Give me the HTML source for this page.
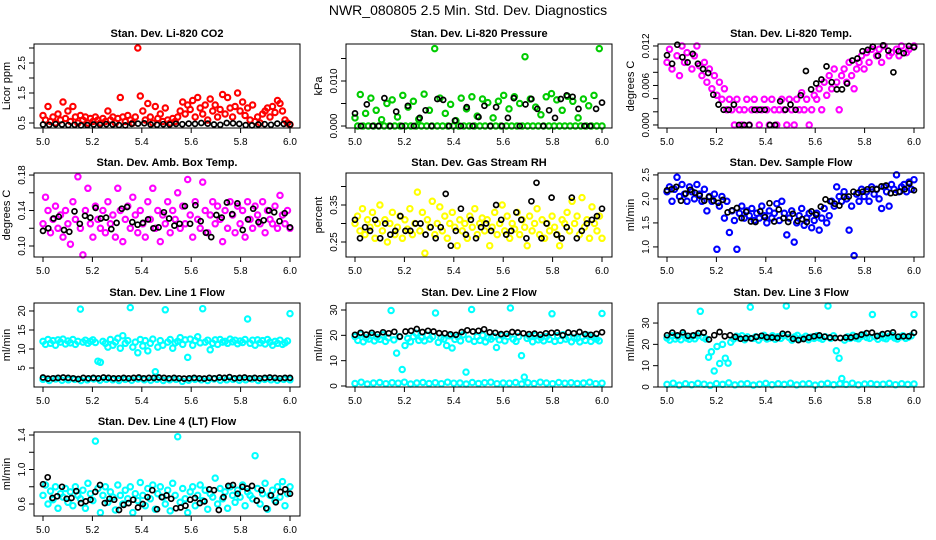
<!DOCTYPE html>
<html><head><meta charset="utf-8">
<style>
html,body{margin:0;padding:0;background:#fff;}
svg{display:block;font-family:"Liberation Sans",Arial,sans-serif;}
</style></head>
<body>
<svg id="chart" width="936" height="540" viewBox="0 0 936 540">
<text x="468" y="15" text-anchor="middle" font-size="14" fill="#000">NWR_080805  2.5 Min. Std. Dev. Diagnostics</text>
</svg>
<script>
// ---- data (one value per sample, x spans 5.0 .. 6.0) ----
const xTicks = [5.0, 5.2, 5.4, 5.6, 5.8, 6.0];
const xTickLabels = ["5.0", "5.2", "5.4", "5.6", "5.8", "6.0"];

const co2Red = [0.75,0.6,1.05,0.55,0.7,0.5,0.8,0.6,1.2,0.65,0.9,0.55,1.05,0.7,0.5,0.75,0.6,0.7,0.5,0.65,0.55,0.7,0.6,0.5,0.65,0.55,0.9,0.6,0.7,0.5,0.65,1.35,0.7,0.55,0.75,0.6,0.5,0.7,3.0,1.4,0.9,0.6,1.15,0.7,0.5,1.05,0.65,0.8,0.55,1.0,0.6,0.5,0.65,0.55,0.7,0.9,1.2,0.8,1.1,0.95,1.25,0.7,1.35,1.0,0.8,1.1,0.6,1.3,0.9,1.1,0.7,0.95,1.45,0.8,1.35,1.0,0.7,1.05,1.5,0.9,1.2,0.75,1.0,0.6,1.1,0.55,0.7,0.5,0.8,0.9,1.0,0.7,1.05,0.85,1.25,1.15,0.9,0.6,0.5,0.45];
const co2Black = [0.45,0.44,0.46,0.45,0.43,0.44,0.42,0.43,0.45,0.44,0.46,0.45,0.43,0.42,0.47,0.48,0.49,0.45,0.44,0.46,0.45,0.47,0.46,0.48,0.47,0.5,0.48,0.45,0.44,0.5,0.49,0.47,0.43,0.42,0.45,0.46,0.44,0.48,0.47,0.45];

const presGreen = [0.0018,0,0.007,0,0.0028,0,0.0062,0,0.0035,0,0.0014,0,0.005,0,0.0058,0,0.002,0,0.0068,0,0.0042,0,0.0055,0,0.0015,0,0.0071,0,0.0035,0,0.0172,0,0.0062,0,0.0028,0,0.0048,0,0.0012,0,0.0062,0,0.0038,0,0.0065,0,0.0022,0,0.006,0,0.0052,0,0.0018,0,0.0055,0,0.0068,0,0.0038,0,0.0065,0,0.005,0,0.0154,0,0.006,0,0.0042,0,0.0025,0,0.0065,0,0.0072,0,0.0058,0,0.0035,0,0.0066,0,0.0055,0,0.0018,0,0.006,0,0.0045,0,0.0068,0,0.0172,0];
const presBlack = [0.0028,0,0.0048,0,0,0.0062,0,0.0032,0,0.0045,0,0.0018,0.0035,0,0.006,0.0058,0,0.0012,0,0.0042,0,0.002,0.0045,0,0.0042,0,0.0018,0.0062,0,0.0048,0.006,0.0038,0,0.0035,0.0018,0.006,0.0068,0.0065,0.0038,0,0,0.0038,0.0052];

const tempMag = [0.0095,0.0115,0.0085,0.0125,0.0105,0.0075,0.012,0.0095,0.011,0.0125,0.0085,0.0105,0.012,0.009,0.0075,0.0095,0.0065,0.0085,0.0055,0.0075,0.0045,0.0065,0.0039,0.0055,0.0023,0.0039,0.0023,0.0,0.0039,0.0023,0.0,0.0023,0.0039,0.0,0.0023,0.0039,0.0023,0.0,0.0023,0.0039,0.0023,0.0,0.0039,0.0023,0.0,0.0023,0.0039,0.0023,0.0,0.0039,0.0023,0.0,0.0039,0.0023,0.0049,0.0023,0.0039,0.0,0.0023,0.0045,0.0039,0.0055,0.0023,0.0065,0.0045,0.0075,0.0055,0.0085,0.0065,0.0023,0.0075,0.0085,0.0065,0.0095,0.0075,0.0055,0.0085,0.0095,0.0105,0.0085,0.011,0.0095,0.0115,0.0125,0.0105,0.0115,0.0095,0.012,0.0125,0.0105,0.011,0.0125,0.0115,0.0105,0.012,0.0125,0.011,0.0115,0.0125,0.012];
const tempBlack = [0.0106,0.0093,0.0122,0.0103,0.0095,0.0108,0.0093,0.0085,0.0079,0.0046,0.0031,0.0023,0.0023,0.0031,0.0,0.0,0.0,0.0023,0.0023,0.0023,0.0,0.0,0.0036,0.0023,0.0031,0.0023,0.0045,0.0082,0.0054,0.0063,0.0069,0.0089,0.0065,0.0054,0.0054,0.0063,0.0098,0.0101,0.0112,0.0114,0.0119,0.0105,0.0121,0.0113,0.008,0.0112,0.0109,0.012,0.0118];

const ambMag = [0.125,0.155,0.14,0.115,0.13,0.145,0.12,0.135,0.11,0.14,0.125,0.102,0.15,0.13,0.178,0.12,0.09,0.14,0.165,0.125,0.11,0.145,0.13,0.12,0.14,0.115,0.15,0.125,0.135,0.11,0.165,0.14,0.105,0.13,0.145,0.12,0.155,0.135,0.115,0.14,0.125,0.11,0.15,0.13,0.165,0.12,0.14,0.105,0.135,0.125,0.15,0.115,0.14,0.13,0.16,0.12,0.145,0.125,0.175,0.135,0.11,0.15,0.13,0.12,0.172,0.14,0.115,0.135,0.15,0.125,0.145,0.13,0.105,0.14,0.12,0.15,0.135,0.115,0.145,0.125,0.14,0.11,0.15,0.13,0.12,0.145,0.135,0.125,0.15,0.115,0.14,0.13,0.125,0.145,0.12,0.157,0.135,0.125,0.14,0.12];
const ambBlack = [0.117,0.12,0.131,0.133,0.118,0.116,0.139,0.125,0.134,0.132,0.143,0.131,0.132,0.119,0.126,0.142,0.144,0.127,0.124,0.126,0.13,0.12,0.121,0.138,0.131,0.123,0.125,0.145,0.125,0.146,0.128,0.115,0.11,0.135,0.132,0.149,0.136,0.148,0.118,0.13,0.142,0.127,0.129,0.14,0.138,0.128,0.137,0.121];

const rhYellow = [0.3,0.32,0.28,0.34,0.27,0.31,0.29,0.33,0.26,0.3,0.35,0.28,0.31,0.25,0.3,0.33,0.27,0.29,0.32,0.26,0.31,0.285,0.34,0.27,0.3,0.385,0.28,0.33,0.22,0.31,0.29,0.36,0.27,0.3,0.345,0.28,0.32,0.26,0.3,0.33,0.29,0.24,0.31,0.28,0.3,0.26,0.32,0.29,0.34,0.27,0.3,0.315,0.28,0.31,0.24,0.29,0.33,0.27,0.3,0.35,0.28,0.32,0.26,0.3,0.285,0.33,0.27,0.31,0.29,0.24,0.32,0.28,0.3,0.34,0.27,0.31,0.26,0.3,0.28,0.32,0.29,0.27,0.24,0.31,0.3,0.33,0.28,0.36,0.3,0.32,0.27,0.37,0.29,0.31,0.26,0.345,0.3,0.28,0.32,0.26];
const rhBlack = [0.31,0.26,0.29,0.28,0.31,0.26,0.3,0.27,0.28,0.32,0.28,0.28,0.3,0.3,0.27,0.29,0.26,0.29,0.38,0.24,0.28,0.34,0.27,0.31,0.26,0.29,0.3,0.28,0.35,0.31,0.27,0.28,0.33,0.31,0.26,0.36,0.41,0.26,0.3,0.37,0.27,0.26,0.29,0.37,0.26,0.28,0.3,0.31,0.32,0.34];

const flowBlue = [2.15,2.25,1.95,2.2,2.45,2.05,2.3,2.1,1.95,2.25,2.15,2.0,2.3,2.1,1.95,2.2,1.75,2.05,1.95,2.1,0.95,1.85,2.05,1.6,1.95,1.3,1.75,1.55,0.95,1.7,1.85,1.6,1.75,1.65,1.8,1.55,1.7,1.6,1.85,1.65,1.5,1.75,1.6,1.7,1.9,1.55,1.95,1.7,1.25,1.6,1.75,1.1,1.5,1.65,1.8,1.45,1.6,1.7,1.4,1.55,1.7,1.35,1.6,1.8,1.5,1.65,1.95,1.85,2.25,2.05,1.95,2.15,2.0,1.35,1.85,0.82,2.1,1.95,2.2,2.05,2.15,1.95,2.25,2.1,2.2,2.0,1.8,2.25,2.15,1.85,2.3,2.2,2.5,2.15,2.25,2.3,2.15,2.35,2.2,2.4];
const flowBlack = [2.18,2.2,2.25,1.96,2.11,2.19,2.13,2.07,1.96,2.04,1.96,1.92,1.98,1.72,1.76,1.81,1.6,1.73,1.53,1.52,1.74,1.62,1.91,1.53,1.78,1.6,1.52,1.69,1.54,1.58,1.52,1.74,1.67,1.84,1.99,1.95,1.9,1.86,2.04,2.05,2.15,2.13,2.15,2.2,2.2,2.2,2.26,2.28,2.12,2.13,2.15,2.2,2.32,2.18];

const line1Cyan = [12.0,11.2,12.5,11.5,12.2,11.0,12.4,11.8,12.6,11.3,12.1,11.6,12.5,11.2,12.0,20.5,11.8,12.3,11.5,12.0,12.4,11.7,6.8,6.5,12.0,11.5,10.5,12.5,11.0,11.8,12.8,10.2,13.5,11.5,12.2,20.9,10.5,11.8,9.0,12.5,10.8,12.2,9.5,11.5,12.6,4.0,10.5,12.2,11.0,20.3,11.8,12.5,10.2,11.6,12.0,13.0,11.2,12.4,7.8,12.6,11.0,12.2,13.2,11.6,20.6,11.8,12.3,9.8,11.5,12.4,11.2,12.5,11.8,12.0,11.5,12.6,11.9,12.3,11.4,12.1,11.7,12.5,17.9,11.5,12.3,11.0,12.4,11.6,12.2,11.3,12.5,11.8,11.0,12.0,11.5,12.3,11.2,11.6,12.1,19.3];
const line1Low = [2.0,1.7,2.1,1.8,1.9,2.0,1.7,1.9,2.1,1.8,2.0,1.9,1.7,2.0,1.8,2.1,1.9,1.8,2.0,1.7,1.9,2.0,1.5,1.8,2.0,1.9,1.7,2.1,1.8,1.9,2.0,1.8,1.9,2.1,1.7,2.0,1.9,1.8,2.0,1.9];
const line1Black = [2.5,2.2,2.3,2.4,2.5,2.4,2.3,2.1,2.4,2.3,2.4,2.3,2.5,2.4,2.3,2.3,2.4,2.3,2.4,2.5,2.3,2.4,2.4,2.5,2.4,2.3,2.4,2.3,2.2,2.3,2.4,2.3,2.2,2.4,2.3,2.5,2.4,2.6,2.3,2.4,2.5,2.3,2.4,2.3,2.4,2.5,2.4,2.3,2.4,2.4];

const line2Cyan = [19.5,18.0,20.5,17.5,19.0,18.5,20.0,17.8,19.2,18.4,20.2,17.6,19.0,29.8,18.2,13.0,19.5,6.5,16.0,18.8,17.5,19.5,20.8,18.0,19.2,17.8,20.0,18.5,19.5,28.8,17.2,19.0,18.5,16.0,19.8,15.0,18.4,19.5,17.8,20.2,5.5,18.5,30.2,17.6,19.5,18.0,20.0,17.4,19.0,18.5,19.5,15.2,18.2,20.0,17.8,19.5,30.8,18.5,17.6,19.5,12.0,3.5,18.8,19.5,17.5,20.0,18.2,19.0,17.8,19.5,18.4,28.5,17.6,19.8,18.0,20.2,18.5,19.2,17.5,19.0,18.8,17.4,19.5,18.0,20.0,17.6,19.2,18.5,17.8,28.6];
const line2Low = [1.0,1.5,0.8,1.2,1.4,0.9,1.3,1.1,1.5,0.8,1.2,1.4,1.0,1.3,0.9,1.5,1.1,1.2,0.8,1.4,1.0,1.3,1.5,0.9,1.2,1.1,1.4,0.8,1.3,1.0,1.5,1.2,0.9,1.4,1.1,1.3,1.0,1.2,1.5,0.9,1.1];
const line2Black = [20.2,21.0,20.3,21.0,20.4,21.2,20.8,21.4,19.5,21.5,21.8,22.5,21.3,21.8,21.5,20.9,20.8,20.4,20.2,21.3,22.0,21.5,21.8,22.4,21.2,21.0,20.5,20.6,21.3,21.1,20.8,20.5,20.7,20.3,20.8,21.0,21.1,20.0,21.1,20.8,21.3,20.5,20.2,20.6,21.2];

const line3Cyan = [23.0,22.0,24.0,22.5,23.5,22.2,24.5,23.0,22.4,23.8,22.6,24.0,35.5,23.2,22.5,14.0,16.5,7.5,19.0,11.0,20.0,13.5,11.2,21.0,22.5,23.8,23.0,24.0,22.2,23.5,37.5,22.8,23.6,22.0,23.4,24.2,22.5,23.0,24.0,22.4,23.6,22.8,24.0,38.0,23.2,22.0,23.5,24.2,22.6,23.0,23.8,22.2,23.4,22.8,24.0,23.0,22.4,23.6,38.0,22.8,24.0,17.0,13.5,4.0,22.0,23.5,22.8,24.2,23.0,22.6,23.8,24.5,23.2,22.8,34.0,23.6,22.4,24.0,23.0,22.6,23.8,24.2,23.0,22.5,23.5,24.0,22.8,23.4,24.0,34.0];
const line3Low = [1.2,1.8,0.9,1.5,1.1,1.7,1.3,0.8,1.6,1.2,1.9,1.0,1.4,1.6,0.9,1.3,1.7,1.1,1.5,1.2,1.8,1.0,1.4,1.6,0.9,1.3,1.7,1.1,1.5,1.2,1.8,1.0,1.4,1.6,1.2,1.3,1.7,1.1,1.5,1.2,1.4];
const line3Black = [24.3,25.5,24.2,25.6,24.0,24.2,25.3,25.5,22.3,24.3,25.8,23.8,24.3,23.5,22.6,22.9,22.8,23.5,24.0,23.3,23.2,23.0,25.0,24.8,22.6,22.0,22.5,23.2,23.8,24.2,23.6,23.2,23.0,23.0,23.2,23.2,23.8,24.6,25.3,25.5,23.9,24.8,25.2,25.6,23.6,23.8,23.8,25.5];

const line4Cyan = [0.7,0.82,0.6,0.75,0.65,0.8,0.55,0.72,0.68,0.78,0.62,0.74,0.58,0.8,0.7,0.66,0.76,0.55,0.84,0.72,0.64,1.33,0.78,0.5,0.7,0.8,0.62,0.74,0.68,0.53,0.82,0.7,0.6,0.76,0.66,0.8,0.5,0.72,0.64,0.85,0.7,0.58,0.78,0.66,0.82,0.54,0.72,0.8,0.68,0.6,0.76,0.52,0.84,0.7,1.38,0.62,0.78,0.66,0.5,0.74,0.8,0.58,0.7,0.82,0.64,0.76,0.54,0.72,0.68,0.9,0.6,0.78,0.66,0.74,0.55,0.8,0.7,0.62,0.76,0.68,0.82,0.58,0.74,0.7,0.66,1.16,0.78,0.6,0.72,0.84,0.54,0.7,0.76,0.64,0.8,0.68,0.86,0.58,0.72,0.8];
const line4Black = [0.83,0.91,0.67,0.69,0.8,0.66,0.67,0.75,0.61,0.63,0.65,0.74,0.82,0.61,0.66,0.65,0.53,0.59,0.61,0.65,0.56,0.6,0.68,0.76,0.54,0.68,0.7,0.66,0.55,0.56,0.58,0.65,0.67,0.61,0.63,0.77,0.76,0.53,0.68,0.81,0.82,0.72,0.8,0.78,0.81,0.64,0.76,0.55,0.7,0.62,0.74,0.77,0.72];

// ---- layout ----
const svg = document.getElementById('chart');
const NS = 'http://www.w3.org/2000/svg';
const colLeft = [34, 346, 658];
const rowTop = [44, 173, 303, 432];
const boxW = 266, boxH = 84;

function mk(tag, attrs, parent) {
  const el = document.createElementNS(NS, tag);
  for (const k in attrs) el.setAttribute(k, attrs[k]);
  (parent || svg).appendChild(el);
  return el;
}

function drawPanel(col, row, slug, title, ylab, ylim, yTicks, yTickLabels, series) {
  const L = colLeft[col], T = rowTop[row], B = T + boxH;
  const g = mk('g', {});
  
  
  const xs = v => L + 9 + (v - 5.0) * 247;
  const ys = v => B - (v - ylim[0]) / (ylim[1] - ylim[0]) * boxH;

  const t = mk('text', {x: L + boxW / 2, y: T - 7, 'text-anchor': 'middle', 'font-size': 11, 'font-weight': 'bold'}, g);
  t.textContent = title;
  
  

  const yl = mk('text', {x: 0, y: 0, 'text-anchor': 'middle', 'font-size': 11, transform: `translate(${L - 24},${T + boxH / 2}) rotate(-90)`}, g);
  yl.textContent = ylab;
  
  

  series.forEach(s => {
    const n = s.vals.length;
    const black = s.color === '#000';
    const pg = mk('g', {fill: 'none', stroke: s.color, 'stroke-width': black ? 1.7 : 2.1}, g);
    
    
    s.vals.forEach((v, i) => {
      const y = ys(v);
      if (y < T - 1 || y > B + 1) return;
      const c = mk('circle', {cx: xs(5.0 + i / (n - 1)).toFixed(1), cy: y.toFixed(1), r: black ? 2.5 : 2.7}, pg);
      
      
    });
  });

  const box = mk('rect', {x: L, y: T, width: boxW, height: boxH, fill: 'none', stroke: '#000', 'stroke-width': 1}, g);
  
  

  const xa = mk('g', {}, g);
  
  
  xTicks.forEach((v, i) => {
    mk('line', {x1: xs(v), x2: xs(v), y1: B, y2: B + 5, stroke: '#000'}, xa);
    const tl = mk('text', {x: xs(v), y: B + 17, 'text-anchor': 'middle', 'font-size': 10}, xa);
    tl.textContent = xTickLabels[i];
  });
  const ya = mk('g', {}, g);
  
  
  yTicks.forEach((v, i) => {
    const y = ys(v);
    mk('line', {x1: L - 5, x2: L, y1: y, y2: y, stroke: '#000'}, ya);
    if (yTickLabels[i]) {
      const tl = mk('text', {x: 0, y: 0, 'text-anchor': 'middle', 'font-size': 10, transform: `translate(${L - 9},${y}) rotate(-90)`}, ya);
      tl.textContent = yTickLabels[i];
    }
  });
}

const BLK = '#000';
drawPanel(0, 0, 'co2', 'Stan. Dev. Li-820 CO2', 'Licor ppm', [0.333, 3.133],
  [0.5, 1.0, 1.5, 2.0, 2.5, 3.0], ['0.5', '', '1.5', '', '2.5', ''],
  [{name: 'red', vals: co2Red, color: '#ff0000'}, {name: 'black', vals: co2Black, color: BLK}]);
drawPanel(1, 0, 'pressure', 'Stan. Dev. Li-820 Pressure', 'kPa', [-0.00044, 0.01822],
  [0, 0.005, 0.010, 0.015], ['0.000', '', '0.010', ''],
  [{name: 'green', vals: presGreen, color: '#00cc00'}, {name: 'black', vals: presBlack, color: BLK}]);
drawPanel(2, 0, 'temp', 'Stan. Dev. Li-820 Temp.', 'degrees C', [-0.00046, 0.0123],
  [0, 0.002, 0.004, 0.006, 0.008, 0.010, 0.012], ['0.000', '', '', '0.006', '', '', '0.012'],
  [{name: 'magenta', vals: tempMag, color: '#ff00ff'}, {name: 'black', vals: tempBlack, color: BLK}]);
drawPanel(0, 1, 'amb-box', 'Stan. Dev. Amb. Box Temp.', 'degrees C', [0.0876, 0.1823],
  [0.10, 0.12, 0.14, 0.16, 0.18], ['0.10', '', '0.14', '', '0.18'],
  [{name: 'magenta', vals: ambMag, color: '#ff00ff'}, {name: 'black', vals: ambBlack, color: BLK}]);
drawPanel(1, 1, 'rh', 'Stan. Dev. Gas Stream RH', 'percent', [0.2095, 0.4365],
  [0.25, 0.30, 0.35, 0.40], ['0.25', '', '0.35', ''],
  [{name: 'yellow', vals: rhYellow, color: '#ffff00'}, {name: 'black', vals: rhBlack, color: BLK}]);
drawPanel(2, 1, 'sample-flow', 'Stan. Dev. Sample Flow', 'ml/min', [0.79, 2.54],
  [1.0, 1.5, 2.0, 2.5], ['1.0', '1.5', '2.0', '2.5'],
  [{name: 'blue', vals: flowBlue, color: '#0000ff'}, {name: 'black', vals: flowBlack, color: BLK}]);
drawPanel(0, 2, 'line1', 'Stan. Dev. Line 1 Flow', 'ml/min', [0, 22.1],
  [5, 10, 15, 20], ['5', '10', '15', '20'],
  [{name: 'cyan', vals: line1Cyan, color: '#00ffff'}, {name: 'cyan-low', vals: line1Low, color: '#00ffff'}, {name: 'black', vals: line1Black, color: BLK}]);
drawPanel(1, 2, 'line2', 'Stan. Dev. Line 2 Flow', 'ml/min', [-0.39, 32.76],
  [0, 10, 20, 30], ['0', '10', '20', '30'],
  [{name: 'cyan', vals: line2Cyan, color: '#00ffff'}, {name: 'cyan-low', vals: line2Low, color: '#00ffff'}, {name: 'black', vals: line2Black, color: BLK}]);
drawPanel(2, 2, 'line3', 'Stan. Dev. Line 3 Flow', 'ml/min', [0, 39.4],
  [0, 10, 20, 30], ['0', '10', '20', '30'],
  [{name: 'cyan', vals: line3Cyan, color: '#00ffff'}, {name: 'cyan-low', vals: line3Low, color: '#00ffff'}, {name: 'black', vals: line3Black, color: BLK}]);
drawPanel(0, 3, 'line4', 'Stan. Dev. Line 4 (LT) Flow', 'ml/min', [0.461, 1.435],
  [0.6, 0.8, 1.0, 1.2, 1.4], ['0.6', '', '1.0', '', '1.4'],
  [{name: 'cyan', vals: line4Cyan, color: '#00ffff'}, {name: 'black', vals: line4Black, color: BLK}]);
</script>
</body></html>
